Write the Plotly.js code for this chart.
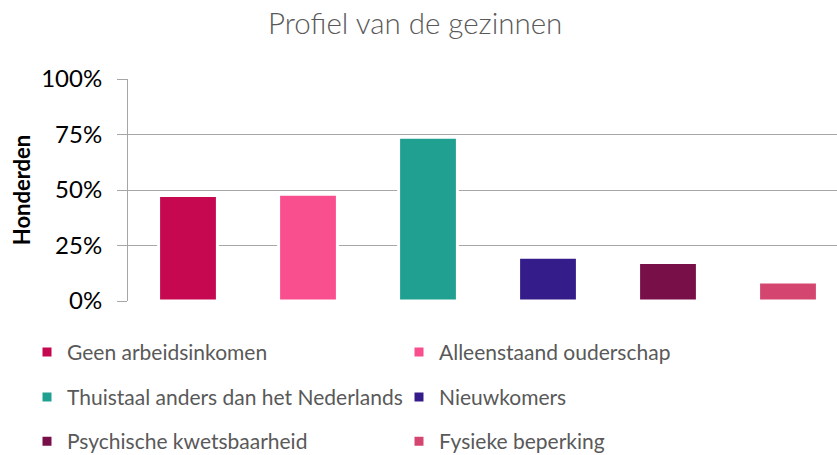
<!DOCTYPE html>
<html>
<head>
<meta charset="utf-8">
<script src="https://cdn.plot.ly/plotly-3.0.1.min.js"></script>
<style>html,body{margin:0;padding:0;background:#fff;}#chart{width:837px;height:455px;}</style>
</head>
<body>
<div id="chart"></div>
<script>
const categories = ["Geen arbeidsinkomen","Alleenstaand ouderschap","Thuistaal anders dan het Nederlands","Nieuwkomers","Psychische kwetsbaarheid","Fysieke beperking"];
const values = [0.475, 0.481, 0.738, 0.197, 0.173, 0.086];
const colors = ["#C5084F","#FA4F8F","#20A090","#341C8A","#780F48","#D4466F"];
const yTickVals = [0, 0.25, 0.5, 0.75, 1];
const yTickText = ["0%","25%","50%","75%","100%"];

const legendPos = [[27,352],[399,352],[27,397],[399,397],[27,441],[399,441]];
const legendNames = ["legend","legend2","legend3","legend4","legend5","legend6"];

const L = 128, T = 79, PW = 837 - 128, PH = 221.7;
const catPx = 120;

const traces = categories.map((c,i)=>({
  type:'bar', x:[c], y:[values[i]], name:c,
  marker:{color:colors[i], line:{color:'#ffffff', width:3}},
  width:0.49, legend:legendNames[i], hoverinfo:'none'
}));

const layout = {
  width:837, height:455,
  margin:{l:L, r:0, t:T, b:455 - T - PH, autoexpand:false},
  paper_bgcolor:'#fff', plot_bgcolor:'#fff',
  barmode:'overlay',
  font:{family:'Lato, sans-serif', color:'#595959'},
  title:{text:'Profiel van de gezinnen', x:0.496, xanchor:'center', y:0.947, yanchor:'middle',
    font:{family:'Lato, sans-serif', size:29.5, color:'#595959', weight:300}},
  xaxis:{type:'category', showticklabels:false, ticks:'', showgrid:false, zeroline:false, showline:false,
    range:[-0.5, -0.5 + PW/catPx], fixedrange:true},
  yaxis:{range:[0,1], tickvals:yTickVals, ticktext:yTickText, showgrid:true, gridcolor:'#a6a6a6', gridwidth:1,
    zeroline:false, showline:true, linecolor:'#a6a6a6', linewidth:1, ticks:'outside', ticklen:10, tickcolor:'#a6a6a6',
    ticklabelstandoff:10, automargin:false, tickfont:{family:'Lato, sans-serif', size:24, color:'#000'},
    title:{text:'Honderden', standoff:4, font:{family:'Lato, sans-serif', size:22, color:'#000', weight:'bold'}}},
  showlegend:true
};
legendNames.forEach((ln,i)=>{
  layout[ln] = {xref:'paper', yref:'paper', x:(legendPos[i][0]-L)/PW, y:(T+PH-legendPos[i][1])/PH,
    xanchor:'left', yanchor:'middle', bgcolor:'rgba(0,0,0,0)', font:{family:'Lato, sans-serif', size:21, color:'#595959'}, itemwidth:30};
});
Plotly.newPlot('chart', traces, layout, {displayModeBar:false, staticPlot:true});
</script>
</body>
</html>
